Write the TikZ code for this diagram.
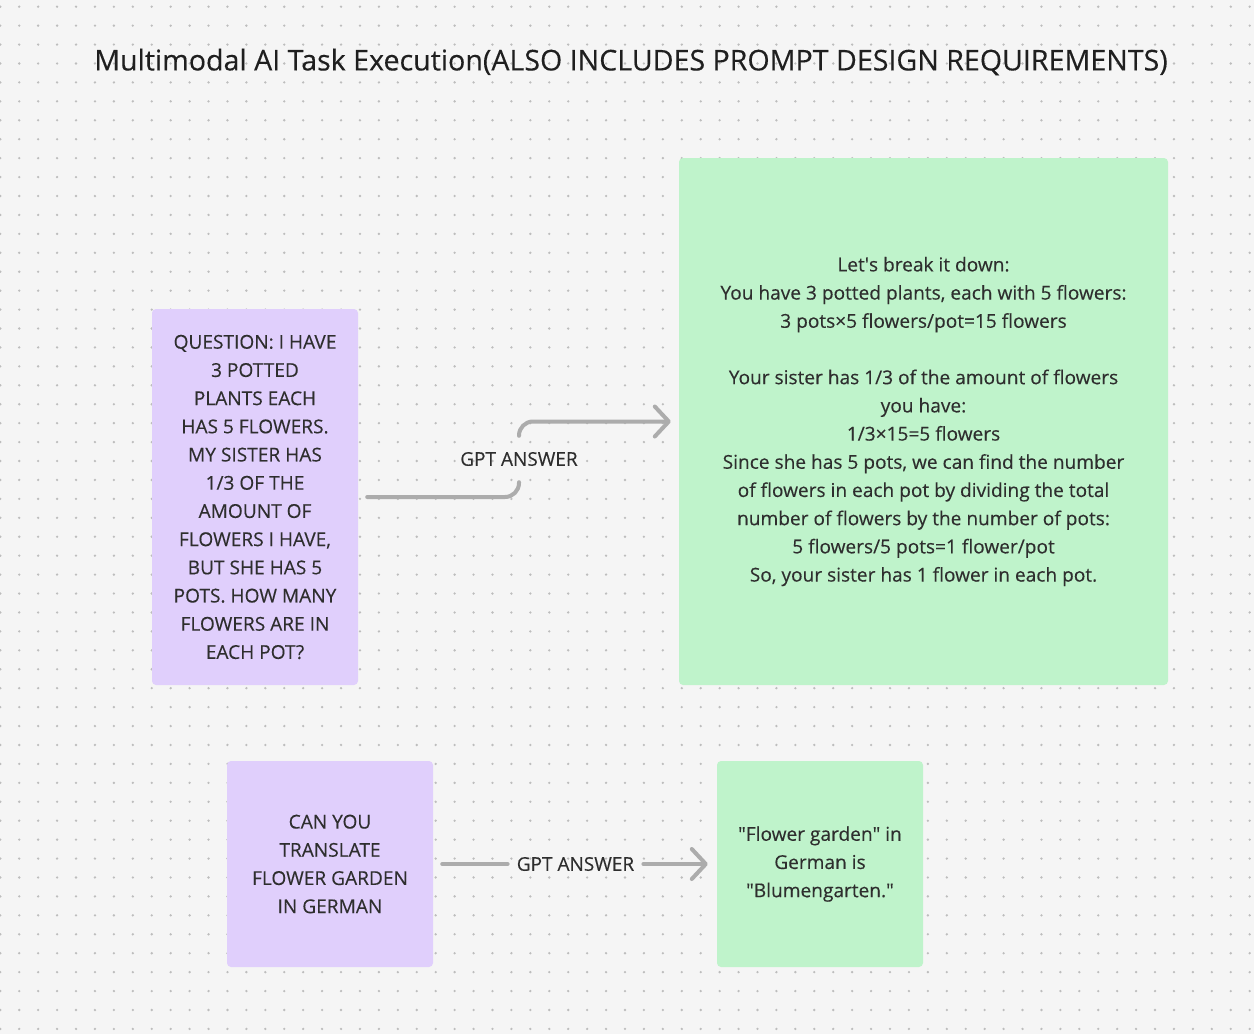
\documentclass[tikz,border=0pt]{standalone}
\usepackage{fontspec}
\setmainfont{Open Sans}[FakeBold=0.25]
\usetikzlibrary{arrows.meta}
\definecolor{bgc}{HTML}{F5F5F5}
\definecolor{dotc}{HTML}{BDBDBD}
\definecolor{purp}{HTML}{E0CFFC}
\definecolor{grn}{HTML}{BFF3CB}
\definecolor{txt}{HTML}{2E2E2E}
\definecolor{conc}{HTML}{ACACAC}
\tikzset{
  box/.style={rounded corners=4pt, inner sep=0pt, align=center, text=txt,
    font=\fontsize{19.1}{28.2}\selectfont},
  qbox/.style={box, fill=purp},
  abox/.style={box, fill=grn},
  conn/.style={draw=conc, line width=4pt, line cap=round},
  arr/.style={conn, -{Straight Barb[length=14pt,width=30pt,round]}},
  lbl/.style={text=txt, font=\fontsize{19}{22}\selectfont, inner sep=0pt}
}
\begin{document}
\begin{tikzpicture}[x=1pt,y=-1pt]
\fill[bgc] (0,0) rectangle (1254,1034);
\useasboundingbox (0,0) rectangle (1254,1034);
\foreach \i in {0,...,66}{
  \foreach \j in {0,...,54}{
    \fill[dotc] ({0.3+18.93*\i},{6.7+18.93*\j}) circle (1.3);
  }
}
\node[text=black!88, font=\fontsize{28.6}{33}\selectfont, inner sep=0pt] (title) at (631,62)
  {Multimodal AI Task Execution(ALSO INCLUDES PROMPT DESIGN REQUIREMENTS)};

\node[qbox, minimum width=206pt, minimum height=376pt] (q1) at (255,497)
  {QUESTION: I HAVE\\3 POTTED\\PLANTS EACH\\HAS 5 FLOWERS.\\MY SISTER HAS\\1/3 OF THE\\AMOUNT OF\\FLOWERS I HAVE,\\BUT SHE HAS 5\\POTS. HOW MANY\\FLOWERS ARE IN\\EACH POT?};

\node[abox, minimum width=489pt, minimum height=527pt] (a1) at (923.5,421.5)
  {Let\textquotesingle s break it down:\\You have 3 potted plants, each with 5 flowers:\\3 pots×5 flowers/pot=15 flowers\\[28.2pt]Your sister has 1/3 of the amount of flowers\\you have:\\1/3×15=5 flowers\\Since she has 5 pots, we can find the number\\of flowers in each pot by dividing the total\\number of flowers by the number of pots:\\5 flowers/5 pots=1 flower/pot\\So, your sister has 1 flower in each pot.};

\node[qbox, minimum width=206pt, minimum height=206pt] (q2) at (330,864)
  {CAN YOU\\TRANSLATE\\FLOWER GARDEN\\IN GERMAN};

\node[abox, minimum width=206pt, minimum height=206pt] (a2) at (820,864)
  {\textquotedbl Flower garden\textquotedbl{} in\\German is\\\textquotedbl Blumengarten.\textquotedbl};

\node[lbl, minimum height=46pt] (l1) at (519,459) {GPT ANSWER};
\node[lbl, inner xsep=9pt] (l2) at (575.5,864) {GPT ANSWER};

\draw[conn, rounded corners=14pt] ([xshift=9pt]q1.east) -| (l1.south);
\draw[arr, rounded corners=14pt] (l1.north) |- ([xshift=-8pt]a1.west);
\draw[conn] ([xshift=9pt]q2.east) -- (l2.west);
\draw[arr] (l2.east) -- ([xshift=-9pt]a2.west);
\end{tikzpicture}
\end{document}
